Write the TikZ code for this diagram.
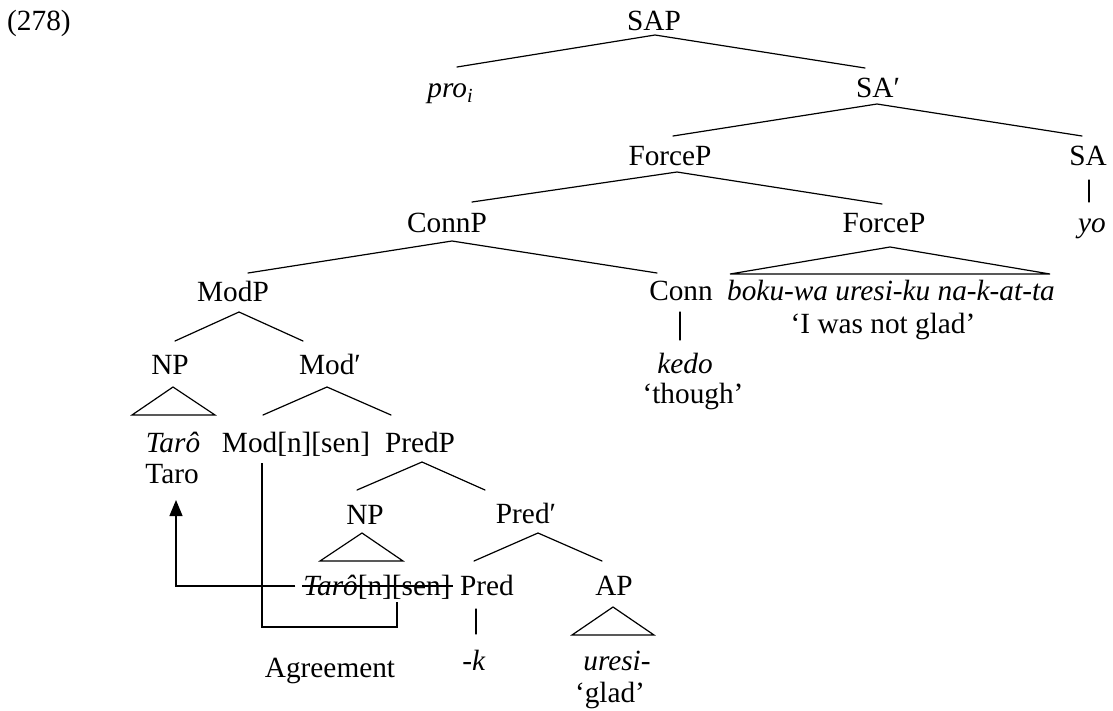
\documentclass[tikz,border=0pt]{standalone}
\usepackage{fontspec}
\setmainfont{Liberation Serif}
\usetikzlibrary{calc,arrows.meta}
\begin{document}
\begin{tikzpicture}[x=1pt,y=1pt,
  lbl/.style={anchor=base,inner sep=0pt,font=\fontsize{29.3}{34}\selectfont},
  edge/.style={line width=1.2pt,line cap=round},
  move/.style={line width=1.2pt,-{Triangle[length=16pt,width=13pt]}}]
\useasboundingbox (0,0) rectangle (1113,-710);

% labels
\node[lbl,anchor=base west] (ex) at (7,-30) {(278)};
\node[lbl] (sap) at (654,-30) {SAP};
\node[lbl] (pro) at (450,-97) {\textit{pro}\raisebox{-5pt}{\fontsize{20}{21}\selectfont\textit{i}}};
\node[lbl] (sabar) at (878,-97) {SA′};
\node[lbl] (force1) at (670,-165) {ForceP};
\node[lbl] (sa) at (1088,-165) {SA};
\node[lbl] (connp) at (447,-232) {ConnP};
\node[lbl] (force2) at (884,-232) {ForceP};
\node[lbl] (yo) at (1092,-232) {\textit{yo}};
\node[lbl] (modp) at (233,-301) {ModP};
\node[lbl] (conn) at (681,-300) {Conn};
\node[lbl] (boku) at (891,-300) {\textit{boku-wa uresi-ku na-k-at-ta}};
\node[lbl] (glI) at (883,-333) {‘I was not glad’};
\node[lbl] (np1) at (170,-374) {NP};
\node[lbl] (modbar) at (330,-374) {Mod′};
\node[lbl] (kedo) at (685,-373) {\textit{kedo}};
\node[lbl] (though) at (693,-403) {‘though’};
\node[lbl] (taroI) at (173,-452) {\textit{Tarô}};
\node[lbl] (modns) at (296,-452) {Mod[n][sen]};
\node[lbl] (predp) at (420,-452) {PredP};
\node[lbl] (taro) at (172,-483) {Taro};
\node[lbl] (np2) at (365,-524) {NP};
\node[lbl] (predbar) at (526,-523) {Pred′};
\node[lbl] (taroS) at (377,-595) {\textit{Tarô}[n][sen]};
\node[lbl] (pred) at (487,-595) {Pred};
\node[lbl] (ap) at (614,-595) {AP};
\node[lbl] (k) at (474,-670) {\textit{-k}};
\node[lbl] (uresi) at (617,-670) {\textit{uresi-}};
\node[lbl] (agr) at (330,-677) {Agreement};
\node[lbl] (glad) at (610,-702) {‘glad’};

% branches
\draw[edge] ($(pro.base)+(7,30)$) -- ($(sap.base)+(1,-5)$) -- ($(sabar.base)+(-13,29)$);
\draw[edge] ($(force1.base)+(3,29)$) -- ($(sabar.base)+(-1,-7)$) -- ($(sa.base)+(-6,29)$);
\draw[edge] ($(connp.base)+(25,30)$) -- ($(force1.base)+(7,-7)$) -- ($(force2.base)+(-2,28)$);
\draw[edge] ($(sa.base)+(1,-15)$) -- ($(yo.base)+(-3,30)$);
\draw[edge] ($(force2.base)+(6,-15)$) -- ($(boku.base)+(-161,26)$) -- ($(boku.base)+(159,26)$) -- cycle;
\draw[edge] ($(modp.base)+(15,28)$) -- ($(connp.base)+(5,-9)$) -- ($(conn.base)+(-24,27)$);
\draw[edge] ($(conn.base)+(-1,-12)$) -- ($(kedo.base)+(-5,33)$);
\draw[edge] ($(np1.base)+(5,33)$) -- ($(modp.base)+(6,-11)$) -- ($(modbar.base)+(-27,33)$);
\draw[edge] ($(np1.base)+(3,-13)$) -- ($(taroI.base)+(-41,37)$) -- ($(taroI.base)+(42,37)$) -- cycle;
\draw[edge] ($(modns.base)+(-33,37)$) -- ($(modbar.base)+(-3,-13)$) -- ($(predp.base)+(-29,37)$);
\draw[edge] ($(np2.base)+(-8,34)$) -- ($(predp.base)+(2,-10)$) -- ($(predbar.base)+(-41,33)$);
\draw[edge] ($(np2.base)+(-3,-9)$) -- ($(taroS.base)+(-57,34)$) -- ($(taroS.base)+(26,34)$) -- cycle;
\draw[edge] ($(pred.base)+(-13,34)$) -- ($(predbar.base)+(12,-10)$) -- ($(ap.base)+(-12,34)$);
\draw[edge] ($(pred.base)+(-11,-14)$) -- ($(k.base)+(2,36)$);
\draw[edge] ($(ap.base)+(-1,-12)$) -- ($(uresi.base)+(-45,35)$) -- ($(uresi.base)+(37,35)$) -- cycle;

% deleted copy of the subject
\draw[line width=1.2pt] ($(taroS.base west)+(-1,9)$) -- ($(taroS.base east)+(2,9)$);

% movement of the subject
\draw[move] ($(taroS.base west)+(-8,9)$) -| ($(taro.base)+(4,-17)$);

% agreement link
\coordinate (agrB) at (330,-627);
\draw[line width=1.2pt] ($(modns.base)+(-34,-11)$) |- (agrB) -| ($(taroS.base)+(20,-7)$);
\end{tikzpicture}
\end{document}
